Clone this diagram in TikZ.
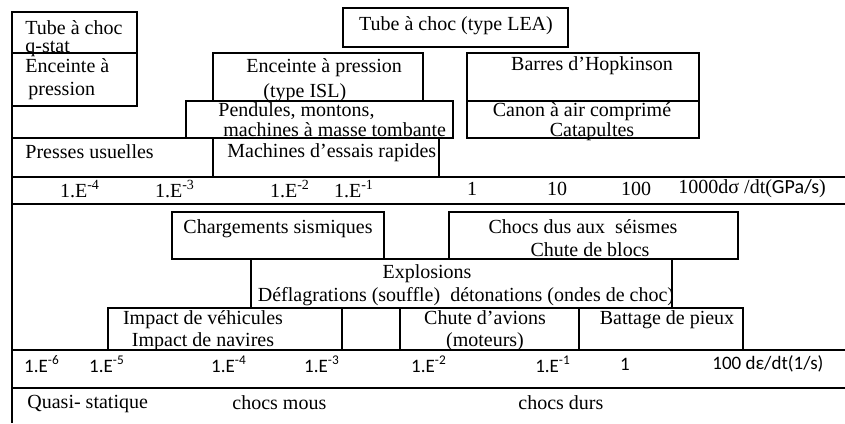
\documentclass[tikz,border=0pt]{standalone}
\usepackage{fontspec}
\setmainfont{Liberation Serif}
\newfontfamily\calfont{Carlito}
\usetikzlibrary{fit}
\tikzset{
  cell/.style={rectangle, draw=black, line width=0.8pt, inner sep=0pt},
  lbl/.style={font=\fontsize{10}{11.5}\selectfont, inner sep=0pt, align=left},
  clbl/.style={font=\fontsize{10}{11.5}\selectfont, inner sep=0pt, align=center},
  sanslbl/.style={font=\calfont\fontsize{9.5}{10}\selectfont, inner sep=0pt},
  rule/.style={line width=0.8pt},
}

\begin{document}
\begin{tikzpicture}[x=0.5pt,y=-0.5pt]
  \useasboundingbox (0,0) rectangle (845,423);

  % --- upper half: stress rate ---
  \node[cell, fit={(12,12) (137,53)}] (qstat) {};
  \node[cell, fit={(12,53) (137,106)}] (encq) {};
  \node[cell, fit={(343,8) (568,47)}] (lea) {};
  \node[cell, fit={(213,53) (423,101)}] (isl) {};
  \node[cell, fit={(467,53) (699,101)}] (hopk) {};
  \node[cell, fit={(186,101) (453,138)}] (pend) {};
  \node[cell, fit={(467,101) (699,138)}] (canon) {};
  \node[cell, fit={(12,138) (213,177)}] (presses) {};
  \node[cell, fit={(213,138) (439,177)}] (mach) {};

  \node[lbl, anchor=west] (qstat-t) at (25,39) {Tube à choc\\[-2.5pt]q-stat};
  \node[lbl, anchor=west] (encq-t) at (25,79) {Enceinte à\\\hspace*{1.5pt}pression};
  \node[clbl] (lea-t) at (456,26) {Tube à choc (type LEA)};
  \node[lbl, anchor=west] (isl-t) at (246,80) {Enceinte à pression\\[1pt]\hspace*{8.5pt}(type ISL)};
  \node[clbl] (hopk-t) at (592,66) {Barres d’Hopkinson};
  \node[lbl, anchor=west] (pend-t) at (218,120) {Pendules, montons,\\[-1.5pt]\hspace*{2.5pt}machines à masse tombante};
  \node[clbl] (canon-t) at (582,122) {Canon à air comprimé\\[-1.5pt]\hspace*{10pt}Catapultes};
  \node[lbl, anchor=west] (presses-t) at (25,152) {Presses usuelles};
  \node[lbl, anchor=west] (mach-t) at (227,153) {Machines d’essais rapides};

  \draw[rule] (12,177) -- (845,177);
  \draw[rule] (12,204) -- (845,204);

  \node[clbl] (s4) at (80,189) {1.E\textsuperscript{-4}};
  \node[clbl] (s3) at (175,189) {1.E\textsuperscript{-3}};
  \node[clbl] (s2) at (290,189) {1.E\textsuperscript{-2}};
  \node[clbl] (s1) at (354,189) {1.E\textsuperscript{-1}};
  \node[clbl] (s0) at (472,189) {1};
  \node[clbl] (s10) at (557,189) {10};
  \node[clbl] (s100) at (636,189) {100};
  \node[lbl, anchor=west] (sunit) at (678,189) {1000dσ /dt({\calfont GPa/s})};

  % --- lower half: strain rate ---
  \node[cell, fit={(172,212) (384,259)}] (sism) {};
  \node[cell, fit={(449,212) (738,259)}] (seism) {};
  \node[cell, fit={(251,259) (672,308)}] (explo) {};
  \node[cell, fit={(108,308) (342,350)}] (impact) {};
  \node[cell, fit={(342,308) (400,350)}] (gap) {};
  \node[cell, fit={(400,308) (579,350)}] (avion) {};
  \node[cell, fit={(579,308) (743,350)}] (pieux) {};

  \node[clbl] (sism-t) at (278,229) {Chargements sismiques};
  \node[clbl] (seism-t) at (583,238) {Chocs dus aux~~séismes\\\hspace*{7pt}Chute de blocs};
  \node[clbl] (explo-t) at (466,285) {\hspace*{-39pt}Explosions\\Déflagrations (souffle)~~détonations (ondes de choc)};
  \node[clbl] (impact-t) at (203,331) {Impact de véhicules\\[-0.5pt]Impact de navires};
  \node[clbl] (avion-t) at (485,331) {Chute d’avions\\[-0.5pt](moteurs)};
  \node[clbl] (pieux-t) at (667,320) {Battage de pieux};

  \draw[rule] (12,350) -- (845,350);
  \draw[rule] (12,388) -- (845,388);

  \node[sanslbl] (e6) at (42,364) {1.E\textsuperscript{-6}};
  \node[sanslbl] (e5) at (107,364) {1.E\textsuperscript{-5}};
  \node[sanslbl] (e4) at (229,364) {1.E\textsuperscript{-4}};
  \node[sanslbl] (e3) at (322,364) {1.E\textsuperscript{-3}};
  \node[sanslbl] (e2) at (429,364) {1.E\textsuperscript{-2}};
  \node[sanslbl] (e1) at (553,364) {1.E\textsuperscript{-1}};
  \node[sanslbl] (e0) at (625,364) {1};
  \node[sanslbl, anchor=west] (eunit) at (712,364) {100 dε/dt(1/s)};

  \node[lbl, anchor=west] (quasi) at (27,404) {Quasi- statique};
  \node[lbl, anchor=west] (mous) at (232,403) {chocs mous};
  \node[lbl, anchor=west] (durs) at (518,403) {chocs durs};

  \draw[rule] (12,12) -- (12,423);
\end{tikzpicture}
\end{document}
